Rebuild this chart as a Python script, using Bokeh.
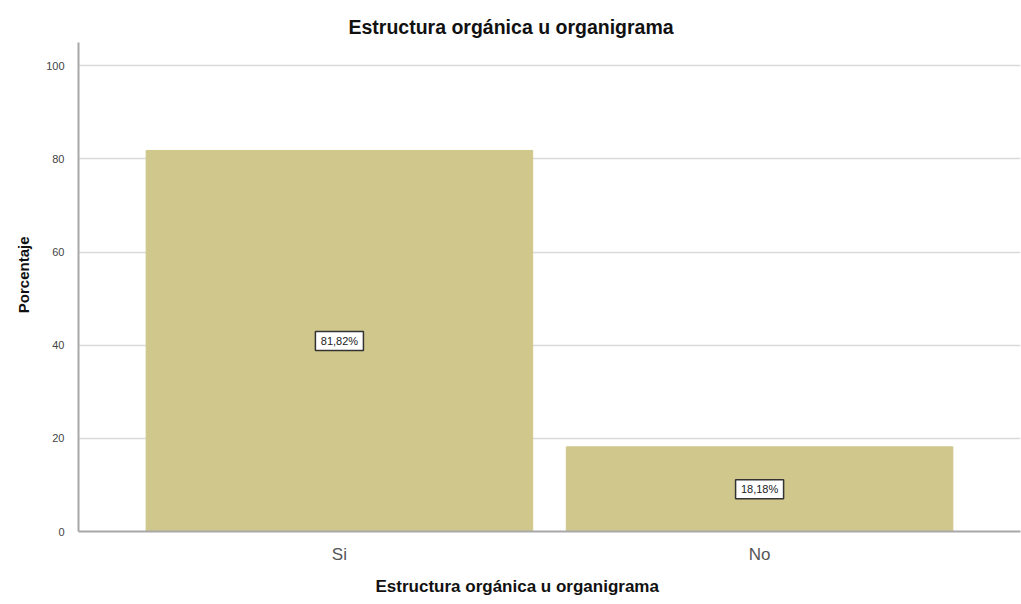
from bokeh.plotting import figure
from bokeh.models import ColumnDataSource, FactorRange, Range1d, Title
from bokeh.core.properties import value
from bokeh.embed import file_html
from bokeh.resources import INLINE

categories = ["Si", "No"]
percentages = [81.82, 18.18]
labels = ["81,82%", "18,18%"]
y_ticks = [0, 20, 40, 60, 80, 100]
title_text = "Estructura orgánica u organigrama"
x_label_text = "Estructura orgánica u organigrama"
y_label_text = "Porcentaje"

src = ColumnDataSource(dict(cat=categories, val=percentages, lab=labels,
                            mid=[v / 2 for v in percentages]))

FONT = "Liberation Sans"

p = figure(width=1021, height=604, output_backend="svg", toolbar_location=None,
           x_range=FactorRange(factors=categories, range_padding=0.121),
           y_range=Range1d(0, 105),
           min_border_left=77, min_border_right=1, min_border_top=42, min_border_bottom=73)
p.outline_line_color = None
p.background_fill_color = "white"

p.vbar(x="cat", top="val", width=0.92, source=src, fill_color="#cfc78b",
       line_color="#cfc78b")

# value labels in white boxes
p.rect(x="cat", y="mid", width=48, height=19, width_units="screen", height_units="screen",
       source=src, fill_color="white", line_color="#333333", line_width=1.5)
p.text(x="cat", y="mid", text="lab", source=src, text_align="center",
       text_baseline="middle", text_font_size="11px", text_font=value(FONT),
       text_color="#222222")

# title
p.title = Title(text=title_text, align="left", offset=270, text_font=FONT,
                text_font_size="19.5px", text_font_style="bold", text_color="#111111",
                standoff=10)
# x axis label as a title below the axis
p.add_layout(Title(text=x_label_text, align="left", offset=297, text_font=FONT,
                   text_font_size="17px", text_font_style="bold", text_color="#111111",
                   standoff=16), "below")
# y axis label as a title on the left
p.add_layout(Title(text=y_label_text, align="right", offset=194, text_font=FONT,
                   text_font_size="15px", text_font_style="bold", text_color="#111111",
                   standoff=24), "left")

p.xgrid.grid_line_color = None
p.ygrid.grid_line_color = "#d9d9d9"
p.ygrid.grid_line_width = 1.5
p.yaxis.ticker = y_ticks

for ax in (p.xaxis[0], p.yaxis[0]):
    ax.axis_line_color = "#a8a8a8"
    ax.axis_line_width = 2
    ax.major_tick_line_color = None
    ax.minor_tick_line_color = None
    ax.major_label_text_font = FONT

p.yaxis.major_label_text_font_size = "11px"
p.yaxis.major_label_text_color = "#444444"
p.yaxis.major_label_standoff = 8

p.xaxis.major_label_text_font_size = "17px"
p.xaxis.major_label_text_color = "#555555"
p.xaxis.major_label_standoff = 7

open("out.html", "w").write(file_html(p, INLINE))
